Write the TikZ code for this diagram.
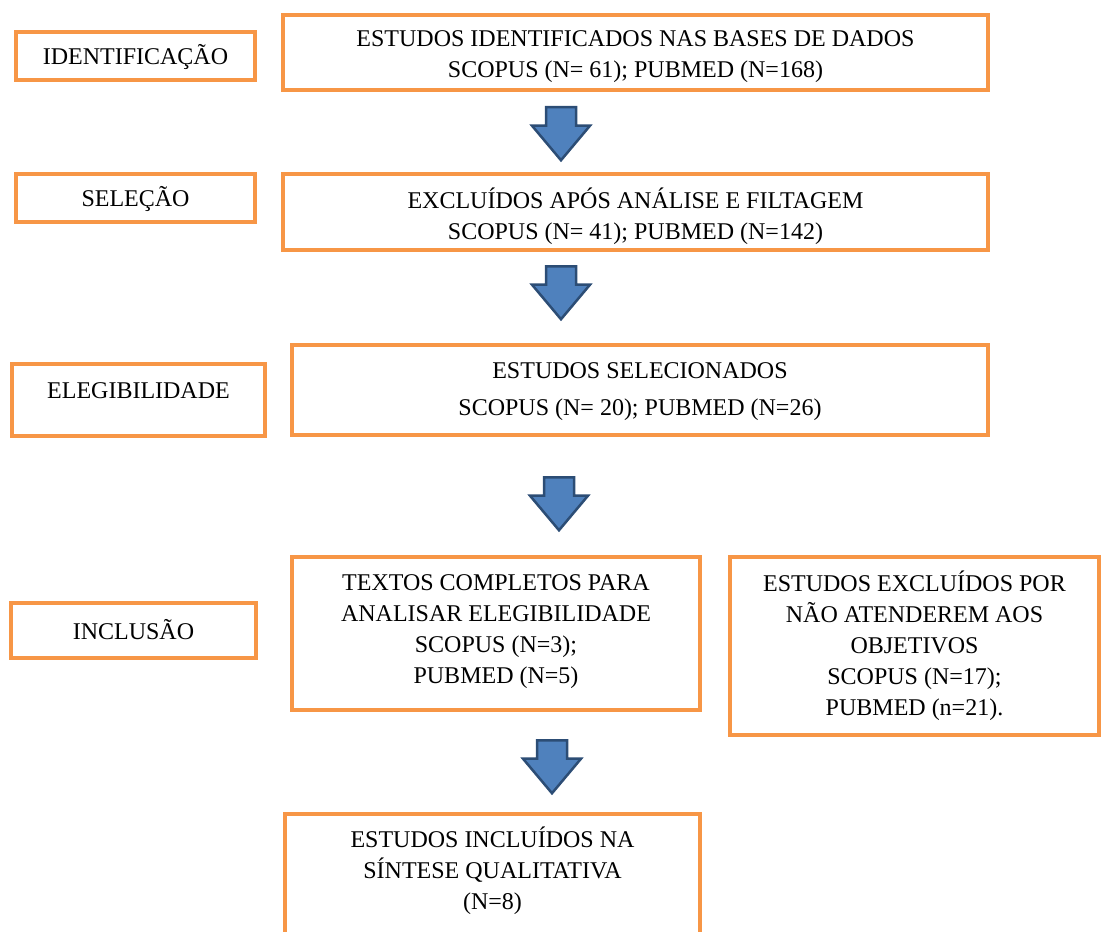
\documentclass[tikz,border=0pt]{standalone}
\usepackage{fontspec}
\setmainfont{Liberation Serif}
\usetikzlibrary{shapes.arrows}
\definecolor{corange}{HTML}{F79646}
\definecolor{cblue}{HTML}{4F81BD}
\definecolor{cnavy}{HTML}{2C4D75}
\tikzset{
  box/.style={draw=corange, line width=4pt, align=center, inner xsep=4pt, inner ysep=2pt,
    text height=20pt, text depth=6pt, font=\fontsize{24}{31}\selectfont},
  stage/.style={box, text height=20pt, text depth=3pt},
  down/.style={single arrow, draw=cnavy, fill=cblue, line width=2.5pt, rotate=-90, anchor=tail,
    inner xsep=0pt, inner ysep=13.75pt, minimum height=53pt,
    single arrow head extend=14pt, single arrow tip angle=80},
}

\begin{document}
\begin{tikzpicture}[x=1pt, y=-1pt]
  \clip (0,0) rectangle (1102,931);
  % stages
  \node[stage, minimum width=239pt, minimum height=48pt] (ident) at (135.5,56) {IDENTIFICAÇÃO};
  \node[stage, minimum width=239pt, minimum height=48pt] (selec) at (135.5,198) {SELEÇÃO};
  \node[stage, minimum width=253pt, minimum height=72pt, text height=16pt, text depth=20pt] (eleg) at (138.5,400) {ELEGIBILIDADE};
  \node[stage, minimum width=245pt, minimum height=55pt] (incl) at (133.5,630.5) {INCLUSÃO};
  % flow boxes
  \node[box, minimum width=705pt, minimum height=75pt, text height=57pt] (found) at (635.5,52.5) {ESTUDOS IDENTIFICADOS NAS BASES DE DADOS\\SCOPUS (N= 61); PUBMED (N=168)};
  \node[box, minimum width=705pt, minimum height=76pt, text height=60pt] (excl) at (635.5,212) {EXCLUÍDOS APÓS ANÁLISE E FILTAGEM\\SCOPUS (N= 41); PUBMED (N=142)};
  \node[box, minimum width=696pt, minimum height=90pt, text height=56pt] (chosen) at (640,390) {ESTUDOS SELECIONADOS\\[6pt]SCOPUS (N= 20); PUBMED (N=26)};
  \node[box, minimum width=408pt, minimum height=153pt, text height=105pt] (full) at (496,633.5) {TEXTOS COMPLETOS PARA\\ANALISAR ELEGIBILIDADE\\SCOPUS (N=3);\\PUBMED (N=5)};
  \node[box, minimum width=369pt, minimum height=178pt, text height=144pt] (dropped) at (914.5,646) {ESTUDOS EXCLUÍDOS POR\\NÃO ATENDEREM AOS\\OBJETIVOS\\SCOPUS (N=17);\\PUBMED (n=21).};
  \node[box, minimum width=415pt, anchor=north, text height=93pt, text depth=100pt] (final) at (492.5,812) {ESTUDOS INCLUÍDOS NA\\SÍNTESE QUALITATIVA\\(N=8)};
  % block arrows
  \node[down] (a1) at (561,106) {};
  \node[down] (a2) at (561,265) {};
  \node[down] (a3) at (559,476) {};
  \node[down] (a4) at (552,739) {};
\end{tikzpicture}
\end{document}
